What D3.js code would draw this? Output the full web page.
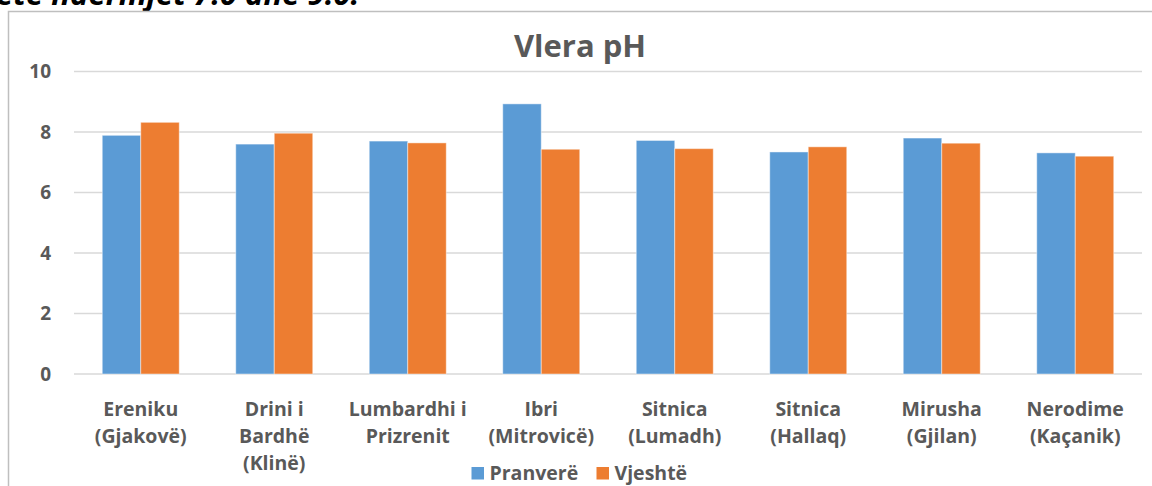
<!DOCTYPE html>
<html>
<head>
<meta charset="utf-8">
<script src="https://cdn.jsdelivr.net/npm/d3@7"></script>
<style>
  body { margin: 0; background: #fff; }
  text { font-family: "Open Sans", Lato, sans-serif; font-weight: bold; fill: #595959; }
</style>
</head>
<body>
<svg id="chart" width="1152" height="486"></svg>
<script>
// data
const categories = ["Ereniku\n(Gjakovë)", "Drini i\nBardhë\n(Klinë)", "Lumbardhi i\nPrizrenit", "Ibri\n(Mitrovicë)",
    "Sitnica\n(Lumadh)", "Sitnica\n(Hallaq)", "Mirusha\n(Gjilan)", "Nerodime\n(Kaçanik)"];
const seriesNames = ["Pranverë", "Vjeshtë"];
const pranvere = [7.89, 7.60, 7.70, 8.93, 7.72, 7.34, 7.80, 7.31];
const vjeshte = [8.32, 7.96, 7.64, 7.43, 7.45, 7.51, 7.63, 7.20];
const yTicks = [0, 2, 4, 6, 8, 10];

const colors = { "Pranverë": "#5B9BD5", "Vjeshtë": "#ED7D31" };
const values = { "Pranverë": pranvere, "Vjeshtë": vjeshte };

const svg = d3.select("#chart");

// line of document text above the chart, cut by the top edge like in the source
svg.append("text")
    .attr("x", -4)
    .attr("y", 5)
    .style("font-style", "italic")
    .style("font-size", "31px")
    .style("fill", "#000")
    .text("ete ndërmjet 7.0 dhe 9.0.");

// chart frame (right/bottom edges fall off the picture)
svg.append("rect")
    .attr("x", 8.5)
    .attr("y", 11.5)
    .attr("width", 1200)
    .attr("height", 600)
    .attr("fill", "none")
    .attr("stroke", "#bfbfbf")
    .attr("stroke-width", 1.5);

const x0 = d3.scaleBand()
    .domain(categories)
    .range([74, 1142]);

const bw = x0.bandwidth();
const x1 = d3.scaleBand()
    .domain(seriesNames)
    .range([bw * 0.2116, bw * 0.7884]);

const y = d3.scaleLinear()
    .domain([0, 10])
    .range([374, 71.5]);

// gridlines
svg.append("g")
    .selectAll("line")
    .data(yTicks)
    .join("line")
    .attr("x1", 74)
    .attr("x2", 1142)
    .attr("y1", d => y(d))
    .attr("y2", d => y(d))
    .attr("stroke", "#d9d9d9")
    .attr("stroke-width", 1.5);

// y tick labels
svg.append("g")
    .selectAll("text")
    .data(yTicks)
    .join("text")
    .attr("x", 51)
    .attr("y", d => y(d))
    .attr("dy", "0.36em")
    .attr("text-anchor", "end")
    .style("font-size", "19px")
    .text(d => d);

// bars
const groups = svg.append("g")
    .selectAll("g")
    .data(categories)
    .join("g")
    .attr("transform", d => `translate(${x0(d)},0)`);

groups.selectAll("rect")
    .data((d, i) => seriesNames.map(s => ({ s, v: values[s][i] })))
    .join("rect")
    .attr("x", d => x1(d.s))
    .attr("y", d => y(d.v))
    .attr("width", x1.bandwidth())
    .attr("height", d => y(0) - y(d.v))
    .attr("fill", d => colors[d.s])
    .attr("stroke", "rgba(255,255,255,0.45)")
    .attr("stroke-width", 1);

// category labels
const catLabels = svg.append("g")
    .selectAll("text")
    .data(categories)
    .join("text")
    .attr("x", d => x0(d) + bw / 2)
    .attr("y", 416)
    .attr("text-anchor", "middle")
    .style("font-size", "19.5px");

catLabels.selectAll("tspan")
    .data(d => d.split("\n"))
    .join("tspan")
    .attr("x", function() { return d3.select(this.parentNode).attr("x"); })
    .attr("dy", (d, i) => i === 0 ? 0 : 27)
    .text(d => d);

// title
svg.append("text")
    .attr("x", 580)
    .attr("y", 57)
    .attr("text-anchor", "middle")
    .style("font-size", "31px")
    .text("Vlera pH");

// legend
const legendX = [471.5, 596.5];
const legend = svg.append("g")
    .selectAll("g")
    .data(seriesNames)
    .join("g")
    .attr("transform", (d, i) => `translate(${legendX[i]},467)`);

legend.append("rect")
    .attr("width", 12.5)
    .attr("height", 12.5)
    .attr("fill", d => colors[d]);

legend.append("text")
    .attr("x", 18)
    .attr("y", 12.5)
    .style("font-size", "19.5px")
    .text(d => d);
</script>
</body>
</html>
